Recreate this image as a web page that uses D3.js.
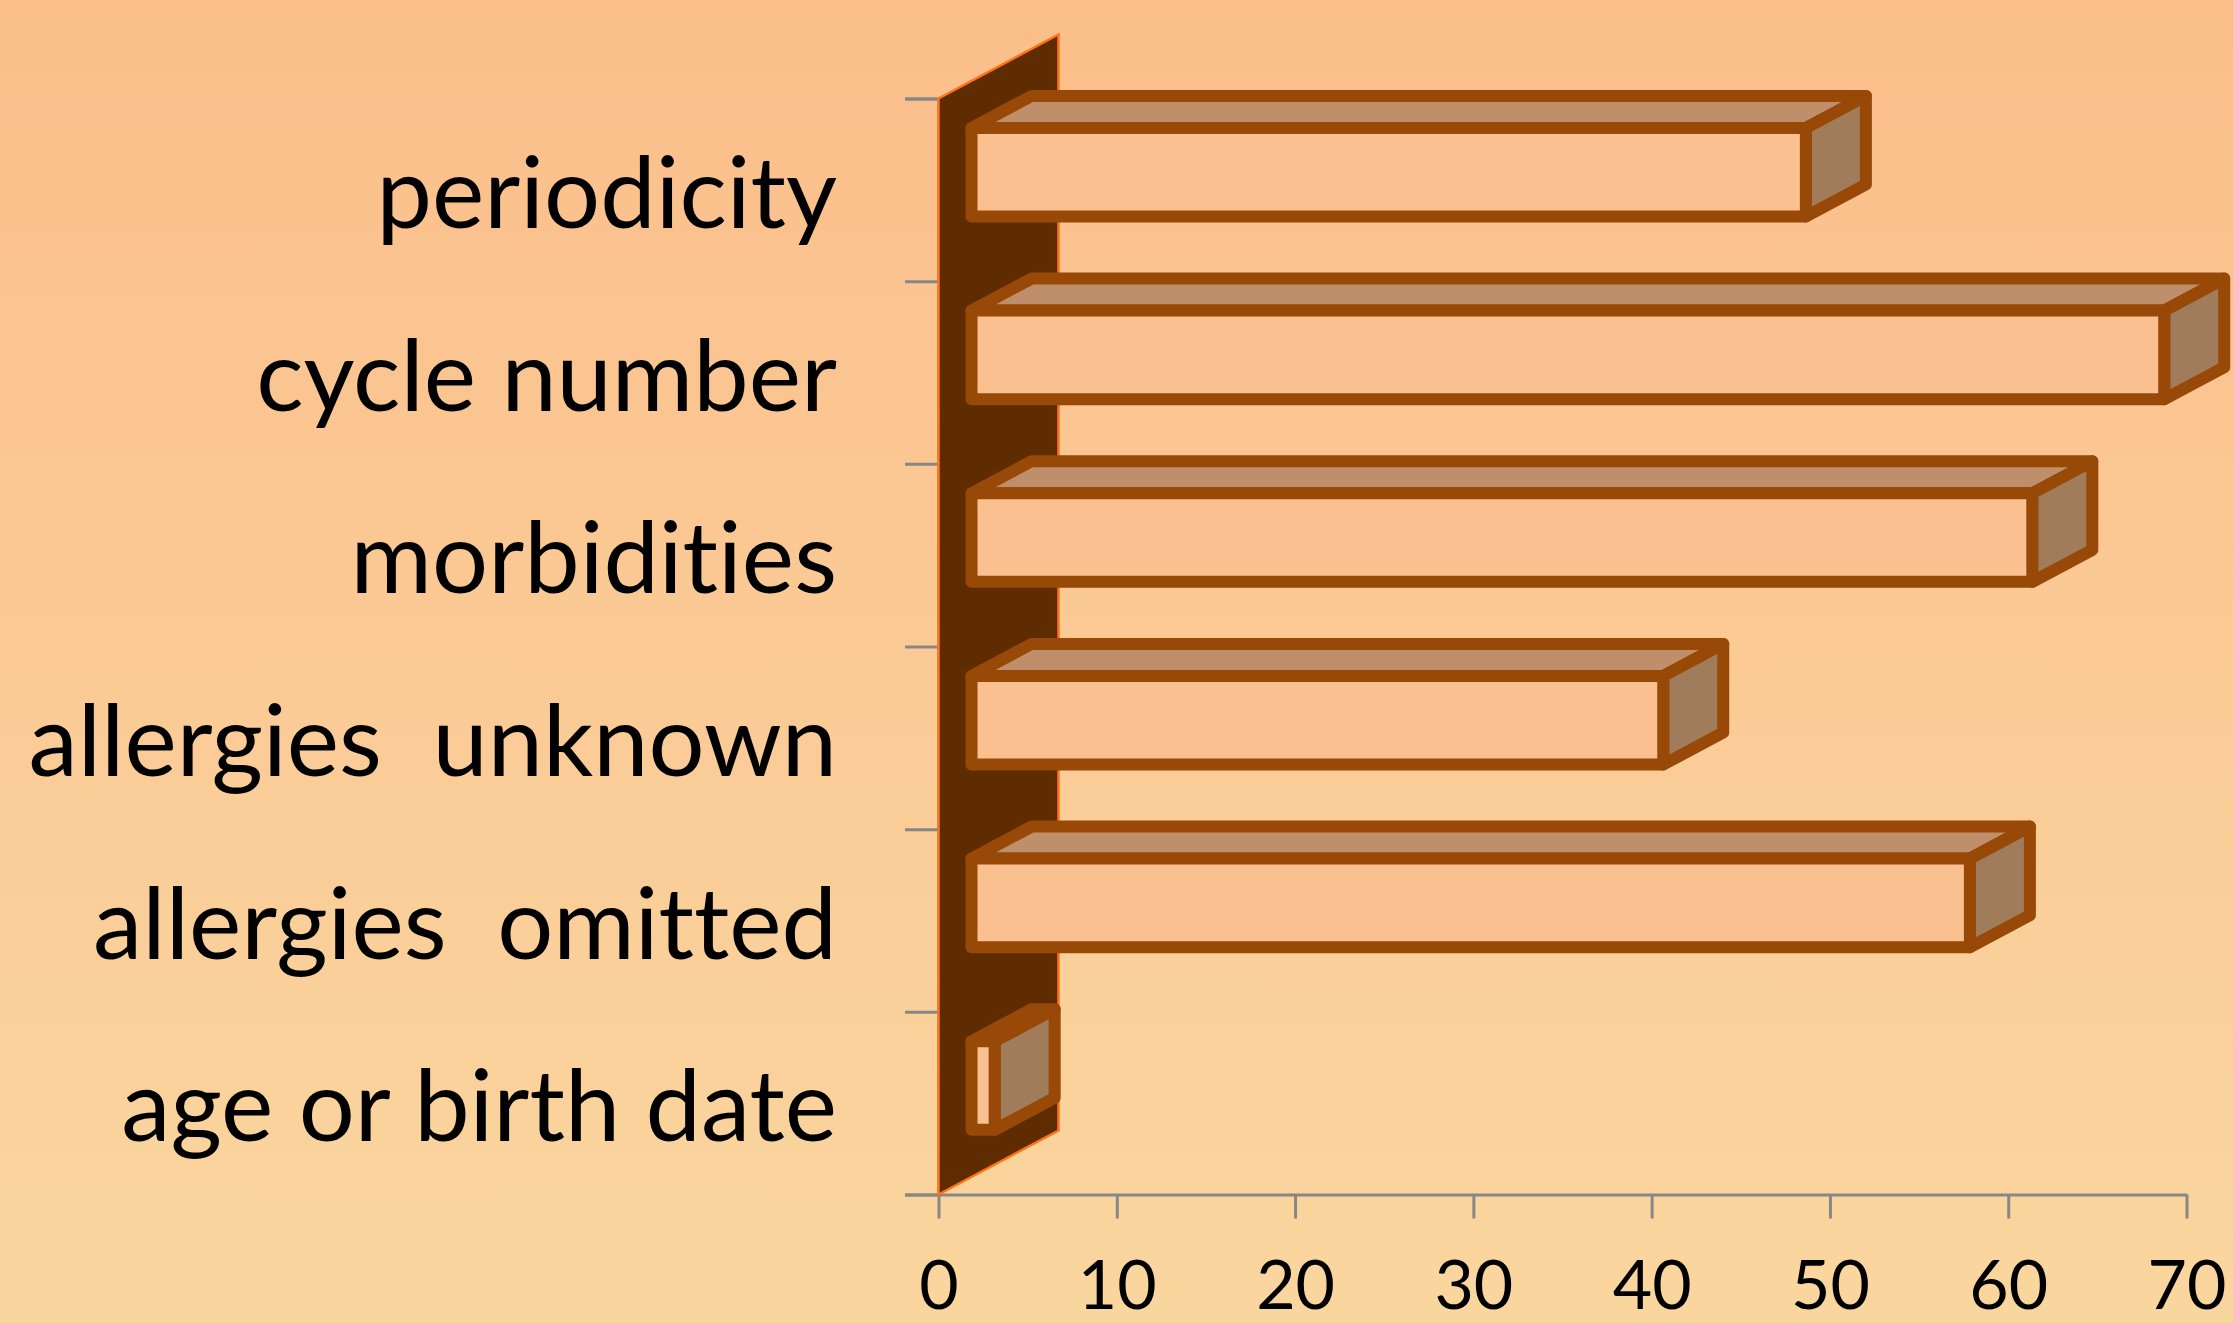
<!DOCTYPE html>
<html>
<head>
<meta charset="utf-8">
<script src="https://cdn.jsdelivr.net/npm/d3@7"></script>
<style>
html, body { margin: 0; padding: 0; overflow: hidden; }
svg { display: block; }
text { font-variant-ligatures: none; font-feature-settings: "liga" 0, "clig" 0; }
</style>
</head>
<body>
<script>
// data
const categories = ["periodicity", "cycle number", "morbidities", "allergies  unknown", "allergies  omitted", "age or birth date"];
const values = [46.8, 66.9, 59.5, 38.8, 56.0, 1.3];
const xTicks = [0, 10, 20, 30, 40, 50, 60, 70];

const W = 2233, H = 1323;
const svg = d3.select("body").append("svg").attr("width", W).attr("height", H);

// background
const grad = svg.append("defs").append("linearGradient")
    .attr("id", "bg").attr("x1", 0).attr("y1", 0).attr("x2", 0).attr("y2", 1);
grad.append("stop").attr("offset", "0%").attr("stop-color", "#fbbe8b");
grad.append("stop").attr("offset", "100%").attr("stop-color", "#fad69f");
svg.append("rect").attr("width", W).attr("height", H).attr("fill", "url(#bg)");

const x = d3.scaleLinear().domain([0, 70]).range([938.5, 2186.5]);
const y = d3.scaleBand().domain(categories).range([98.5, 1194.5]);
const bounds = d3.scaleLinear().domain([0, categories.length]).range([98.5, 1194.5]);

// 3d depth of the back wall
const dx = 120, dy = -64;
const zFront = 0.275, zDepth = 0.5;
const barH = y.bandwidth() * 0.485;

// axes
const axisColor = "#878787";
const gx = svg.append("g").attr("transform", "translate(0,1194.5)")
    .call(d3.axisBottom(x).tickValues(xTicks).tickSize(24).tickSizeOuter(0));
gx.select(".domain").attr("stroke", axisColor).attr("stroke-width", 3);
gx.selectAll(".tick line").attr("stroke", axisColor).attr("stroke-width", 3);
gx.selectAll(".tick text")
    .attr("y", 114).attr("dy", 0)
    .attr("fill", "#000")
    .style("font-family", "Lato, 'Open Sans', sans-serif")
    .style("font-size", "68px");

const gy = svg.append("g").attr("transform", "translate(" + x(0) + ",0)")
    .call(d3.axisLeft(bounds).tickValues(d3.range(categories.length + 1)).tickSize(33.5).tickFormat(""));
gy.select(".domain").attr("stroke", axisColor).attr("stroke-width", 3);
gy.selectAll(".tick line").attr("stroke", axisColor).attr("stroke-width", 3);

// back wall
const x0 = x(0), yTop = bounds(0), yBot = bounds(categories.length);
svg.append("polygon")
    .attr("points", [[x0, yTop], [x0 + dx, yTop + dy], [x0 + dx, yBot + dy], [x0, yBot]].join(" "))
    .attr("fill", "#5e2c00")
    .attr("stroke", "#ff7414")
    .attr("stroke-width", 2.5);

// bars as boxes
const barColor = "#984807";
const bars = svg.append("g").selectAll("g")
    .data(categories.map((c, i) => ({ cat: c, v: values[i] })))
    .join("g");

function box(d) {
    const cy = y(d.cat) + y.bandwidth() / 2;
    const fx = zFront * dx, fy = zFront * dy;
    const bx = zDepth * dx, by = zDepth * dy;
    const l = x(0) + fx, r = x(d.v) + fx;
    const t = cy - barH / 2 + fy, b = cy + barH / 2 + fy;
    return {
        front: [[l, t], [r, t], [r, b], [l, b]],
        top: [[l, t], [l + bx, t + by], [r + bx, t + by], [r, t]],
        side: [[r, t], [r + bx, t + by], [r + bx, b + by], [r, b]]
    };
}

const faces = [["top", "#bf8f6b"], ["side", "#a07c5b"], ["front", "#fac08f"]];
faces.forEach(([k, fill]) => {
    bars.append("polygon")
        .attr("points", d => box(d)[k].join(" "))
        .attr("fill", fill)
        .attr("stroke", barColor)
        .attr("stroke-width", 12)
        .attr("stroke-linejoin", "round");
});

// category labels
svg.append("g").selectAll("text")
    .data(categories)
    .join("text")
    .attr("x", 837)
    .attr("y", d => y(d) + y.bandwidth() / 2 + 38)
    .attr("text-anchor", "end")
    .style("white-space", "pre")
    .style("font-family", "Lato, 'Open Sans', sans-serif")
    .style("font-size", "99px")
    .attr("fill", "#000")
    .text(d => d);
</script>
</body>
</html>
